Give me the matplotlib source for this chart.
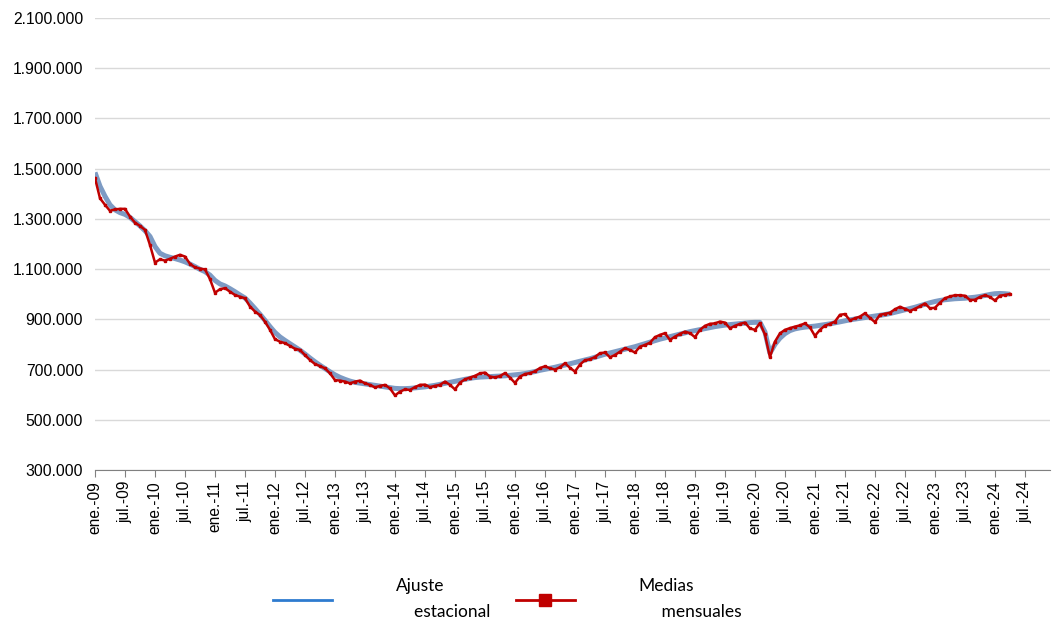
import matplotlib
matplotlib.use("Agg")
import matplotlib.pyplot as plt
from matplotlib.lines import Line2D
from matplotlib.ticker import FixedLocator, FuncFormatter
import numpy as np

plt.rcParams["font.family"] = ["Liberation Sans", "DejaVu Sans"]

# Medias mensuales (miles), ene-09 .. abr-24
medias = [
    1462, 1382, 1356, 1332, 1338, 1340, 1340, 1309, 1285, 1272, 1256, 1196,  # 2009
    1126, 1139, 1134, 1141, 1150, 1157, 1150, 1121, 1107, 1102, 1099, 1060,  # 2010
    1006, 1020, 1024, 1010, 997, 990, 984, 951, 931, 917, 891, 858,          # 2011
    821, 811, 805, 794, 783, 778, 758, 738, 722, 714, 705, 685,              # 2012
    658, 656, 652, 645, 652, 656, 645, 639, 629, 635, 639, 625,              # 2013
    597, 612, 621, 619, 630, 639, 640, 630, 635, 639, 652, 639,              # 2014
    621, 648, 661, 668, 675, 685, 688, 672, 669, 674, 686, 668,              # 2015
    647, 672, 682, 686, 693, 706, 713, 705, 700, 709, 725, 707,              # 2016
    692, 720, 737, 741, 750, 765, 768, 749, 758, 771, 785, 778,              # 2017
    768, 791, 798, 807, 829, 838, 845, 818, 831, 842, 851, 845,              # 2018
    829, 858, 874, 882, 884, 891, 887, 864, 874, 882, 887, 864,              # 2019
    858, 885, 840, 749, 811, 844, 858, 865, 871, 876, 884, 868,              # 2020
    834, 858, 875, 882, 891, 918, 921, 896, 904, 911, 924, 906,              # 2021
    889, 918, 922, 926, 940, 950, 942, 933, 942, 952, 963, 944,              # 2022
    946, 966, 984, 991, 996, 996, 994, 977, 978, 989, 996, 989,              # 2023
    975, 994, 997, 1001,                                                     # 2024
]

# Ajuste estacional (miles)
ajuste = [
    1485, 1430, 1390, 1356, 1336, 1325, 1318, 1306, 1289, 1272, 1253, 1230,  # 2009
    1190, 1163, 1153, 1147, 1142, 1136, 1129, 1120, 1110, 1099, 1090, 1076,  # 2010
    1055, 1041, 1033, 1022, 1010, 997, 985, 965, 943, 920, 896, 871,         # 2011
    848, 830, 816, 803, 790, 777, 762, 746, 731, 717, 704, 691,              # 2012
    679, 669, 661, 654, 649, 646, 643, 640, 637, 634, 631, 628,              # 2013
    625, 624, 624, 625, 627, 629, 631, 634, 637, 641, 645, 649,              # 2014
    653, 657, 661, 665, 668, 670, 671, 672, 673, 674, 675, 677,              # 2015
    679, 681, 684, 688, 692, 697, 701, 705, 709, 714, 718, 723,              # 2016
    728, 733, 738, 743, 749, 755, 761, 766, 771, 776, 781, 786,              # 2017
    791, 797, 803, 809, 815, 821, 826, 831, 836, 841, 846, 851,              # 2018
    855, 859, 863, 867, 871, 874, 877, 879, 881, 883, 885, 887,              # 2019
    888, 888, 850, 765, 800, 825, 843, 855, 862, 866, 869, 871,              # 2020
    873, 876, 879, 882, 886, 890, 894, 898, 901, 904, 907, 910,              # 2021
    913, 916, 919, 923, 928, 933, 938, 943, 948, 954, 960, 966,              # 2022
    971, 975, 978, 980, 982, 983, 984, 986, 988, 991, 995, 999,              # 2023
    1002, 1003, 1002, 1000,                                                  # 2024
]

years = list(range(9, 25))
x_labels = [f"{m}-{y:02d}" for y in years for m in ("ene.", "jul.")]
y_ticks = [300000, 500000, 700000, 900000, 1100000, 1300000, 1500000,
           1700000, 1900000, 2100000]

medias = np.array(medias) * 1000
ajuste = np.array(ajuste) * 1000
meses = np.arange(len(medias))

fig = plt.figure(figsize=(10.52, 6.23), dpi=100)
ax = fig.add_axes([0.0903, 0.2456, 0.9077, 0.7255])

ax.plot(meses, ajuste, color="#7d9bc4", lw=3.6, solid_capstyle="butt", zorder=2)
ax.plot(meses, medias, color="#c00000", lw=1.8, marker="s", markersize=1.5,
        zorder=3)

ax.set_xlim(0, 191)
ax.set_ylim(300000, 2100000)

ax.yaxis.set_major_locator(FixedLocator(y_ticks))
ax.yaxis.set_major_formatter(FuncFormatter(lambda v, p: f"{int(v):,}".replace(",", ".")))
ax.grid(axis="y", color="#d9d9d9", lw=1)
ax.set_axisbelow(True)
ax.tick_params(axis="y", length=0, labelsize=11.3, colors="#000000", pad=8.5)

ax.set_xticks(np.arange(0, 6 * len(x_labels), 6))
ax.set_xticklabels(x_labels, rotation=90, fontsize=11.2)
ax.tick_params(axis="x", length=5, color="#808080", pad=3)

for s in ("left", "right", "top"):
    ax.spines[s].set_visible(False)
ax.spines["bottom"].set_color("#808080")

handles = [
    Line2D([], [], color="#2e7bcf", lw=2),
    Line2D([], [], color="#c00000", lw=2, marker="s", markersize=9),
]
labels = ["Ajuste\n    estacional", "Medias\n     mensuales"]
leg = fig.legend(handles, labels, loc="center", bbox_to_anchor=(0.482, 0.038),
                 ncol=2, frameon=False, handlelength=3.4, handletextpad=3.7,
                 columnspacing=1.45, prop={"family": "Lato", "size": 12.5})
for t in leg.get_texts():
    t.set_linespacing(1.75)

fig.savefig("out.png", dpi=100)
